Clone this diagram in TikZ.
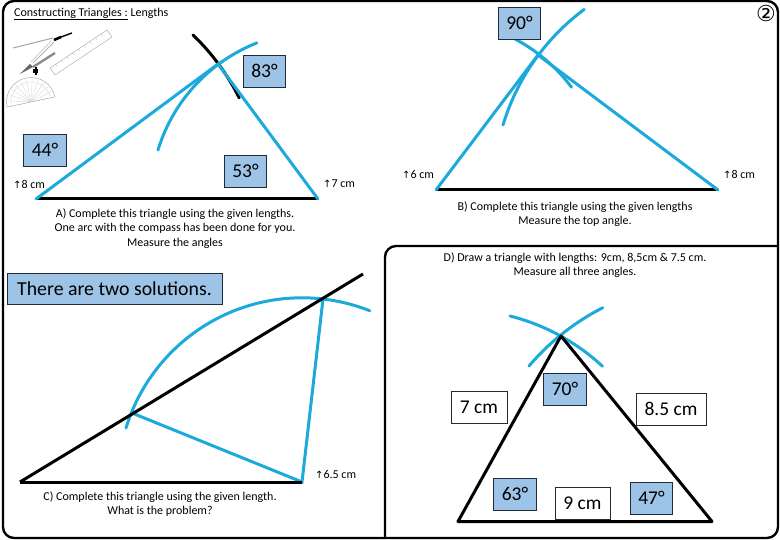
\documentclass[tikz,border=0pt]{standalone}
\usepackage{fontspec}
\usetikzlibrary{calc}
\setmainfont{Carlito}
\newfontfamily\symfont{DejaVu Sans}
\definecolor{arcblue}{HTML}{1CA9DC}
\definecolor{boxblue}{HTML}{9DC3E6}
\definecolor{boxedge}{HTML}{1F2A3A}
\tikzset{
  frameline/.style={draw=black,line width=2.4pt,rounded corners=11pt},
  basel/.style={draw=black,line width=3pt},
  conline/.style={draw=arcblue,line width=3pt,line cap=round},
  inkarc/.style={draw=black,line width=3pt,line cap=round},
  ansbox/.style={draw=boxedge,fill=boxblue,line width=0.7pt,minimum width=42.5pt,minimum height=32pt,inner sep=0pt,font=\fontsize{19.5}{20}\selectfont},
  lenbox/.style={draw=boxedge,fill=white,line width=0.7pt,minimum height=32pt,inner sep=0pt,font=\fontsize{19.5}{20}\selectfont},
  small/.style={font=\fontsize{12}{14.5}\selectfont,inner sep=0pt,align=center},
  lenlabel/.style={font=\fontsize{12}{12}\selectfont,inner sep=0pt,anchor=west},
  clipline/.style={draw=black!40,line width=0.4pt}
}
\newcommand{\upl}[1]{{\symfont\fontsize{10}{10}\selectfont ↑}#1}
\begin{document}
\begin{tikzpicture}[x=1pt,y=-1pt]
\useasboundingbox (0,0) rectangle (780,540);
% frames
\draw[frameline] (3,1) rectangle (778,538);
\draw[frameline] (385,538) -- (385,246) -- (778,246);
% clip art: compass
\draw[black!35,line width=1pt] (13,48) -- (53,38);
\draw[black,line width=2.6pt] (54,40) -- (61,37);
\draw[black,line width=1.4pt] (61,37) -- (72,33);
\draw[black!30,line width=0.8pt] (54,42) -- (33,63);
\draw[black!20,line width=0.8pt] (51,41) -- (31,62);
\draw[black!45,line width=2.4pt] (55,53) -- (33,67);
\fill[black!60] (33,67) -- (20,74) -- (30,64) -- cycle;
\fill[black] (33,69) rectangle (38,73);
\fill[black] (35,67) rectangle (37,75);
% clip art: ruler
\draw[clipline] (50,68) -- (107,30) -- (112,37) -- (55,75) -- cycle;
\foreach \t in {0.1,0.2,...,0.95}
  \draw[black!30,line width=0.3pt] ($(50,68)!\t!(107,30)$) -- ++(1.5,2.2);
% clip art: protractor
\begin{scope}[rotate around={12:(31,102)}]
\draw[clipline] (6.5,102) arc[start angle=180,end angle=360,radius=24.5] -- cycle;
\draw[black!18,line width=0.3pt] (11,102) arc[start angle=180,end angle=360,radius=20];
\foreach \a in {195,210,...,345}
  \draw[black!18,line width=0.3pt] (31,102) -- ++(\a:23);
\end{scope}
% triangle A
\coordinate (aL) at (36,199);
\coordinate (aR) at (318,199);
\coordinate (aT) at (218,64);
\draw[inkarc] (193,35) arc[start angle=-46.2,end angle=-26.4,radius=227];
\draw[conline] (158,150) arc[start angle=197,end angle=248.4,radius=168];
\draw[basel] (aL) -- (aR);
\draw[conline] (aL) -- (aT) -- (aR);
\node[ansbox] (a83) at (264.5,71) {83°};
\node[ansbox] (a44) at (45,150) {44°};
\node[ansbox] (a53) at (245.5,171) {53°};
\node[lenlabel] (a8) at (13,184) {\upl{8 cm}};
\node[lenlabel] (a7) at (323,184) {\upl{7 cm}};
\node[small] (atxt) at (175,228.5) {A) Complete this triangle using the given lengths.\\One arc with the compass has been done for you.\\Measure the angles};
% triangle B
\coordinate (bL) at (436,190);
\coordinate (bR) at (718,190);
\coordinate (bT) at (538,55);
\draw[conline] (503,125) arc[start angle=196.8,end angle=233.4,radius=225];
\draw[conline] (515,39) arc[start angle=-62.1,end angle=-36.9,radius=170.5];
\draw[basel] (bL) -- (bR);
\draw[conline] (bL) -- (bT) -- (bR);
\node[ansbox] (b90) at (519.5,23) {90°};
\node[lenlabel] (b6) at (402,174) {\upl{6 cm}};
\node[lenlabel] (b8) at (723,174) {\upl{8 cm}};
\node[small] (btxt) at (575,214) {B) Complete this triangle using the given lengths\\Measure the top angle.};
% triangle C
\coordinate (cL) at (20,482);
\coordinate (cR) at (302,482);
\coordinate (cE) at (363,274);
\coordinate (cA) at (132,413);
\coordinate (cB) at (323,299);
\draw[conline] (126,428) arc[start angle=197,end angle=291.6,radius=184];
\draw[conline] (cA) -- (cR) -- (cB);
\draw[basel] (cL) -- (cR);
\draw[basel] (cL) -- (cE);
\node[ansbox,minimum width=215pt,minimum height=31pt,font=\fontsize{19.8}{21}\selectfont] (c2) at (114.5,288.5) {There are two solutions.};
\node[lenlabel] (c65) at (315,474) {\upl{6.5 cm}};
\node[small] (ctxt) at (160,504) {C) Complete this triangle using the given length.\\What is the problem?};
% triangle D
\coordinate (dL) at (458,521.5);
\coordinate (dR) at (712,521.5);
\coordinate (dT) at (561,336);
\draw[conline] (510,316) arc[start angle=-75.8,end angle=-47.1,radius=212.6];
\draw[conline] (529,366) arc[start angle=220.4,end angle=243,radius=240];
\draw[basel,line join=round] (dL) -- (dT) -- (dR) -- cycle;
\node[small] (dtxt) at (575,265) {D) Draw a triangle with lengths: 9cm, 8,5cm \& 7.5 cm.\\Measure all three angles.};
\node[ansbox] (d70) at (565,389) {70°};
\node[ansbox] (d63) at (515,494) {63°};
\node[ansbox] (d47) at (651.5,498) {47°};
\node[lenbox,minimum width=56pt] (d7) at (479,407) {7 cm};
\node[lenbox,minimum width=70pt] (d85) at (671,409) {8.5 cm};
\node[lenbox,minimum width=55pt] (d9) at (582.5,503) {9 cm};
% title and page number
\node[small,anchor=west] (title) at (14,14) {\underline{Constructing Triangles :} Lengths};
\node[inner sep=0pt,font=\symfont\fontsize{22}{24}\selectfont] (pg) at (766,13) {②};
\end{tikzpicture}
\end{document}
